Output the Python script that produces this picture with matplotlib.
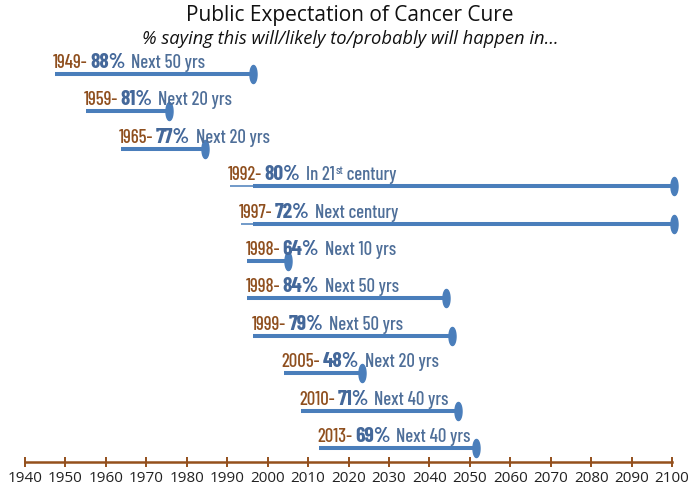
import matplotlib
matplotlib.use("Agg")
import matplotlib.pyplot as plt
from matplotlib.path import Path
import numpy as np

# survey rows, top to bottom
survey_year = ['1949', '1959', '1965', '1992', '1997', '1998', '1998', '1999', '2005', '2010', '2013']
pct_saying = ['88%', '81%', '77%', '80%', '72%', '64%', '84%', '79%', '48%', '71%', '69%']
horizon = ['Next 50 yrs', 'Next 20 yrs', 'Next 20 yrs', 'In 21|st| century', 'Next century',
           'Next 10 yrs', 'Next 50 yrs', 'Next 50 yrs', 'Next 20 yrs', 'Next 40 yrs', 'Next 40 yrs']
# bar extents in years as drawn
bar_start = [1947.4, 1955.0, 1963.7, 1996.4, 1996.4, 1995.0, 1995.0, 1996.5, 2004.0, 2008.3, 2012.8]
bar_end = [1996.5, 1975.5, 1984.4, 2100.6, 2100.6, 2005.1, 2044.0, 2045.6, 2023.3, 2047.0, 2051.5]
thin_start = [None, None, None, 1990.6, 1993.4, None, None, None, None, None, None]

axis_years = list(range(1940, 2101, 10))

BLUE = '#4a7ebb'
PCT_BLUE = '#44689a'
TXT_BLUE = '#4f6f99'
BROWN = '#8f4f1e'
AXIS_BROWN = '#94501c'

LBL_FONT = ['Barlow Condensed', 'DejaVu Sans']

# tall narrow ellipse marker
t = np.linspace(0, 2 * np.pi, 60)
ell = Path(np.column_stack([0.39 * np.cos(t), np.sin(t)]), closed=True)

fig = plt.figure(figsize=(7, 4.9), dpi=100)
ax = fig.add_axes([25 / 700, 28 / 490, 647 / 700, 402 / 490])
n = len(survey_year)
row_px = 37.4
ax.set_xlim(1940, 2100)
ax.set_ylim(n - 1 + 14 / row_px, -14 / row_px)

for i in range(n):
    if thin_start[i] is not None:
        ax.plot([thin_start[i], bar_start[i]], [i, i], color=BLUE, lw=1.1,
                solid_capstyle='butt', clip_on=False)
    ax.plot([bar_start[i], bar_end[i]], [i, i], color=BLUE, lw=2.9,
            solid_capstyle='butt', clip_on=False)
    ax.plot([bar_end[i]], [i], marker=ell, markersize=13, color=BLUE,
            clip_on=False, zorder=3)

    x0 = thin_start[i] if thin_start[i] is not None else bar_start[i]
    t1 = ax.annotate(survey_year[i] + '-', xy=(x0, i), xytext=(-1.5, 4.3),
                     textcoords='offset points', fontsize=13.5, fontweight='medium',
                     color=BROWN, family=LBL_FONT, va='baseline', ha='left',
                     annotation_clip=False)
    t2 = ax.annotate(pct_saying[i], xy=(1, 0), xycoords=t1, xytext=(2, 0),
                     textcoords='offset points', fontsize=15.5, fontweight='bold',
                     color=PCT_BLUE, family=LBL_FONT, va='bottom', ha='left')
    parts = horizon[i].split('|')
    t3 = ax.annotate(parts[0], xy=(1, 0), xycoords=t2, xytext=(4, 0),
                     textcoords='offset points', fontsize=13.5, fontweight='medium',
                     color=TXT_BLUE, family=LBL_FONT, va='bottom', ha='left')
    if len(parts) > 1:
        t4 = ax.annotate(parts[1], xy=(1, 1), xycoords=t3, xytext=(0.5, 0),
                         textcoords='offset points', fontsize=8.5, fontweight='medium',
                         color=TXT_BLUE, family=LBL_FONT, va='top', ha='left')
        ax.annotate(parts[2], xy=(1, 0), xycoords=(t4, t3), xytext=(0, 0),
                    textcoords='offset points', fontsize=13.5, fontweight='medium',
                    color=TXT_BLUE, family=LBL_FONT, va='bottom', ha='left')

for s in ['top', 'left', 'right']:
    ax.spines[s].set_visible(False)
ax.spines['bottom'].set_color(AXIS_BROWN)
ax.spines['bottom'].set_linewidth(1.8)
ax.set_yticks([])
ax.set_xticks(axis_years)
ax.set_xticklabels([str(y) for y in axis_years], fontsize=11, family='Open Sans', color='#222222')
ax.tick_params(axis='x', direction='inout', length=7, width=1.4, color=AXIS_BROWN, pad=3)

fig.text(0.5, 1 - 16 / 490, 'Public Expectation of Cancer Cure', ha='center', va='center',
         fontsize=15, family='Open Sans', color='#111111')
fig.text(0.5, 1 - 39 / 490, '% saying this will/likely to/probably will happen in\u2026',
         ha='center', va='center', fontsize=13.2, family='Open Sans', style='italic',
         color='#111111')

fig.savefig('out.png', dpi=100)
